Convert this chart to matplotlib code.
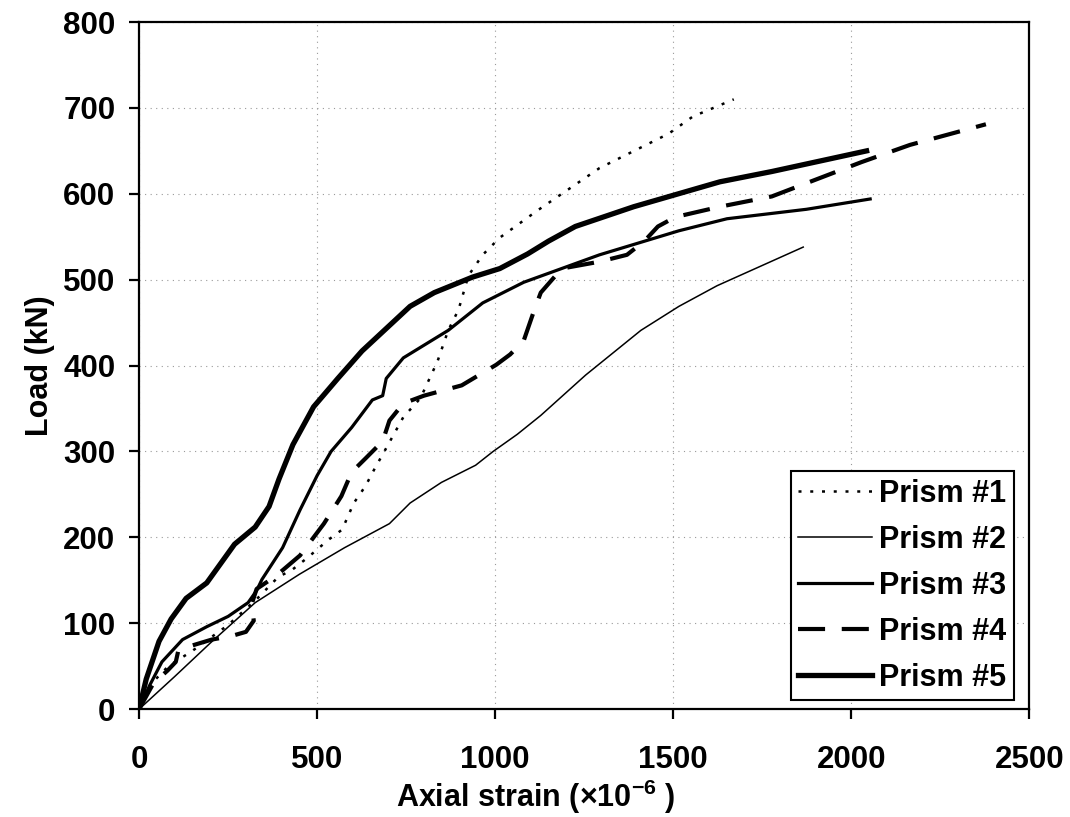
import matplotlib.pyplot as plt
import numpy as np

# Load vs axial strain for five prisms
x1 = [0, 35, 82, 150, 250, 330, 391, 429, 475, 531, 570, 603, 636, 664, 686, 742, 790, 838, 868, 897, 925, 965, 1013, 1120, 1293, 1487, 1555, 1670]
y1 = [0, 30, 50, 68, 98, 128, 154, 162, 177, 197, 209, 240, 260, 282, 298, 340, 362, 405, 441, 465, 505, 529, 549, 581, 630, 670, 690, 710]

x2 = [0, 100, 200, 326, 450, 577, 703, 761, 849, 945, 994, 1062, 1128, 1254, 1409, 1516, 1623, 1865]
y2 = [0, 38, 77, 124, 157, 188, 216, 240, 264, 284, 300, 320, 342, 389, 441, 469, 493, 538]

x3 = [0, 30, 64, 122, 190, 250, 306, 330, 345, 403, 452, 500, 539, 597, 655, 684, 694, 742, 868, 965, 1080, 1293, 1516, 1651, 1874, 2053]
y3 = [0, 28, 55, 81, 96, 108, 124, 138, 151, 188, 232, 272, 300, 328, 360, 365, 385, 409, 441, 473, 497, 529, 557, 571, 582, 594]

x4 = [0, 40, 80, 103, 110, 140, 204, 258, 300, 322, 316, 330, 384, 452, 519, 568, 597, 636, 684, 703, 742, 800, 906, 1003, 1042, 1080, 1110, 1128, 1187, 1293, 1370, 1419, 1457, 1506, 1631, 1777, 1903, 2029, 2165, 2378]
y4 = [0, 30, 45, 55, 68, 73, 81, 85, 90, 103, 122, 140, 155, 179, 216, 248, 276, 292, 312, 336, 356, 365, 377, 401, 413, 429, 465, 485, 513, 521, 529, 545, 562, 573, 585, 597, 617, 637, 657, 681]

x5 = [0, 20, 56, 90, 132, 190, 268, 326, 365, 393, 432, 490, 558, 626, 761, 829, 936, 1013, 1091, 1150, 1225, 1389, 1631, 1777, 2043]
y5 = [0, 35, 79, 105, 129, 147, 192, 212, 236, 268, 308, 352, 385, 417, 469, 485, 503, 513, 530, 545, 562, 585, 614, 626, 650]

labels = ['Prism #1', 'Prism #2', 'Prism #3', 'Prism #4', 'Prism #5']
xticks = [0, 500, 1000, 1500, 2000, 2500]
yticks = [0, 100, 200, 300, 400, 500, 600, 700, 800]

plt.rcParams['font.family'] = 'Liberation Sans'
plt.rcParams['font.weight'] = 'bold'
plt.rcParams['mathtext.fontset'] = 'custom'
plt.rcParams['mathtext.rm'] = 'Liberation Sans:bold'
plt.rcParams['mathtext.default'] = 'rm'

fig = plt.figure(figsize=(10.7, 8.17), dpi=100)
ax = fig.add_axes([0.130, 0.132, 0.832, 0.841])

ax.plot(x1, y1, color='black', lw=1.8, linestyle=(0, (1.2, 3.5)), label=labels[0])
ax.plot(x2, y2, color='black', lw=1.1, label=labels[1])
ax.plot(x3, y3, color='black', lw=2.3, label=labels[2])
ax.plot(x4, y4, color='black', lw=3.0, linestyle=(0, (6.5, 4.0)), label=labels[3])
ax.plot(x5, y5, color='black', lw=3.8, label=labels[4])

ax.set_xlim(0, 2500)
ax.set_ylim(0, 800)
ax.set_xticks(xticks)
ax.set_yticks(yticks)

ax.grid(which='major', color='#999999', linestyle=(0, (1, 4)), linewidth=0.8)
ax.set_axisbelow(True)

for s in ax.spines.values():
    s.set_linewidth(1.6)
    s.set_color('black')

ax.tick_params(axis='x', direction='out', length=7, width=1.6, pad=19, labelsize=22.5)
ax.tick_params(axis='y', direction='out', length=7, width=1.6, pad=10, labelsize=22.5)

ax.set_xlabel('Axial strain (×10$^{-6}$ )', fontsize=22, fontweight='bold', x=0.446, labelpad=2)
ax.set_ylabel('Load (kN)', fontsize=22, fontweight='bold', labelpad=6)

leg = ax.legend(loc='lower right', bbox_to_anchor=(0.983, 0.013), fontsize=22,
                frameon=True, fancybox=False, framealpha=1, edgecolor='black',
                handlelength=2.4, handletextpad=0.25, labelspacing=0.52,
                borderpad=0.25, borderaxespad=0)
leg.get_frame().set_linewidth(1.5)

plt.savefig('out.png', dpi=100)
